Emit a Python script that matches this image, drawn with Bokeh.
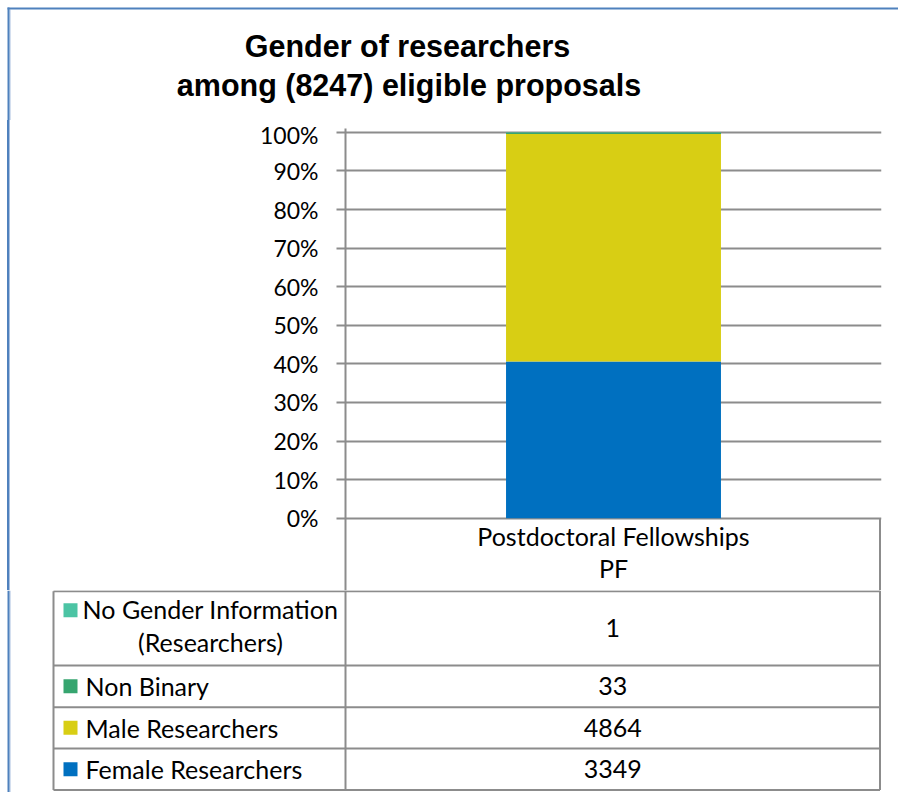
from bokeh.plotting import figure
from bokeh.models import (FactorRange, Range1d, FixedTicker, NumeralTickFormatter,
                          ColumnDataSource)
from bokeh.embed import file_html
from bokeh.resources import INLINE
from bokeh.core.properties import value

# ---------------- data ----------------
title_lines = ["Gender of researchers", "among (8247) eligible proposals"]
category_keys = ["PF"]
category_label_lines = ["Postdoctoral Fellowships", "PF"]
series_names = ["Female Researchers", "Male Researchers", "Non Binary",
                "No Gender Information\n(Researchers)"]
female = [3349]
male = [4864]
non_binary = [33]
no_gender = [1]
series_colors = ["#0070C0", "#D8CE14", "#36A56F", "#4CC4A4"]
y_ticks = [0.0, 0.1, 0.2, 0.3, 0.4, 0.5, 0.6, 0.7, 0.8, 0.9, 1.0]

# ---------------- styles / layout ----------------
W = 898
FONT = "Lato"
TXT = "25px"
TICK_TXT = "23px"
GRID = "#8c8c8c"
BORDER = "#4F81BD"
BORDER_LIGHT = "#A9C0E0"
BX = 8                 # outer chart-box border line position (x and y)
Y_START = -0.1875      # room for the table header row under the bars
Y_END = 1.01

counts = [female, male, non_binary, no_gender]
totals = [sum(vals[i] for vals in counts) for i in range(len(category_keys))]
stackers = ["female", "male", "non_binary", "no_gender"]
data = {"x": category_keys}
for name, vals in zip(stackers, counts):
    data[name] = [v / t for v, t in zip(vals, totals)]
src = ColumnDataSource(data)

# ---------------- title strip ----------------
H0 = 120
p0 = figure(width=W, height=H0, x_range=Range1d(0, W), y_range=Range1d(H0, 0),
            x_axis_type=None, y_axis_type=None, min_border=0,
            output_backend="svg", toolbar_location=None)
p0.outline_line_color = None
p0.segment(x0=[BX + 1.5], y0=[BX + 1], x1=[BX + 1.5], y1=[H0],
           line_color=BORDER_LIGHT, line_width=1)
p0.segment(x0=[BX - 1, BX], y0=[BX, BX - 1], x1=[W + 10, BX], y1=[BX, H0],
           line_color=BORDER, line_width=2)
p0.text(x=[407, 408.5], y=[45.6, 84.6], text=title_lines, text_align="center",
        text_baseline="middle", text_font=value("Liberation Sans"),
        text_font_style="bold", text_font_size="30.5px", text_color="black")

# ---------------- chart ----------------
H1 = 470
p1 = figure(width=W, height=H1, x_range=FactorRange(*category_keys, range_padding=0),
            y_range=Range1d(Y_START, Y_END), x_axis_type=None,
            output_backend="svg", toolbar_location=None,
            min_border_left=345, min_border_right=W - 881,
            min_border_top=8, min_border_bottom=0,
            styles={"box-shadow": f"inset 7px 0 0 0 white, inset 9px 0 0 0 {BORDER}, "
                                  f"inset 10px 0 0 0 {BORDER_LIGHT}"})
p1.border_fill_color = None
p1.outline_line_color = None
p1.yaxis.ticker = FixedTicker(ticks=y_ticks)
p1.yaxis.formatter = NumeralTickFormatter(format="0%")
p1.yaxis.axis_line_color = GRID
p1.yaxis.axis_line_width = 2
p1.yaxis.major_tick_line_color = GRID
p1.yaxis.major_tick_line_width = 2
p1.yaxis.major_tick_out = 9
p1.yaxis.major_tick_in = 0
p1.yaxis.minor_tick_line_color = None
p1.yaxis.major_label_standoff = 18
p1.yaxis.major_label_text_font = FONT
p1.yaxis.major_label_text_font_size = TICK_TXT
p1.yaxis.major_label_text_color = "black"
p1.ygrid.grid_line_color = GRID
p1.ygrid.grid_line_width = 2

p1.vbar_stack(stackers, x="x", width=0.401, source=src,
              fill_color=series_colors, line_color=None)

# header cell of the data table (category name)
for line, dy in zip(category_label_lines, [-18, 14]):
    p1.text(x=category_keys, y=[Y_START / 2], text=[line], y_offset=dy,
            text_align="center", text_baseline="middle",
            text_font=value(FONT), text_font_size=TXT, text_color="black")
p1.segment(x0=[1 - 1.5 / 536], y0=[Y_START], x1=[1 - 1.5 / 536], y1=[0],
           line_color=GRID, line_width=2)

# ---------------- data table rows ----------------
H2 = 202
TOP2 = H0 + H1
p2 = figure(width=W, height=H2, x_range=Range1d(0, W),
            y_range=Range1d(TOP2 + H2, TOP2), x_axis_type=None, y_axis_type=None,
            min_border=0, output_backend="svg", toolbar_location=None)
p2.outline_line_color = None
p2.segment(x0=[BX + 1.5], y0=[TOP2], x1=[BX + 1.5], y1=[TOP2 + H2],
           line_color=BORDER_LIGHT, line_width=1)
p2.segment(x0=[BX], y0=[TOP2], x1=[BX], y1=[TOP2 + H2],
           line_color=BORDER, line_width=2)

row_edges = [590.7, 665, 706.7, 748, 789.5]
col_left, col_div, col_right = 53, 345, 879.5
p2.segment(x0=[col_left] * 5, y0=row_edges, x1=[col_right] * 5, y1=row_edges,
           line_color=GRID, line_width=2)
p2.segment(x0=[col_left, col_div, col_right], y0=[row_edges[0], TOP2, TOP2],
           x1=[col_left, col_div, col_right], y1=[row_edges[-1]] * 3,
           line_color=GRID, line_width=2)

rows_top_down = list(range(len(series_names)))[::-1]
row_mid = [(row_edges[i] + row_edges[i + 1]) / 2 for i in range(4)]
val_x = (col_div + col_right) / 2
key_x = 70
text_x = 85
for r, si in enumerate(rows_top_down):
    name = series_names[si]
    val = counts[si][0]
    ym = row_mid[r]
    p2.text(x=[val_x], y=[ym], text=[str(val)], text_align="center",
            text_baseline="middle", text_font=value(FONT), text_font_size=TXT,
            text_color="black")
    lines = name.split("\n")
    if len(lines) > 1:
        for line, dy in zip(lines, [-19, 14]):
            p2.text(x=[(text_x + col_div - 10) / 2], y=[ym], text=[line],
                    y_offset=dy, text_align="center", text_baseline="middle",
                    text_font=value(FONT), text_font_size=TXT,
                    text_color="black")
        ky = ym - 18
    else:
        p2.text(x=[text_x], y=[ym], text=[name], text_align="left",
                text_baseline="middle", text_font=value(FONT),
                text_font_size=TXT, text_color="black")
        ky = ym
    p2.scatter(x=[key_x], y=[ky], marker="square", size=14,
               fill_color=series_colors[si], line_color=None)

open("out.html", "w").write(file_html([p0, p1, p2], INLINE))
